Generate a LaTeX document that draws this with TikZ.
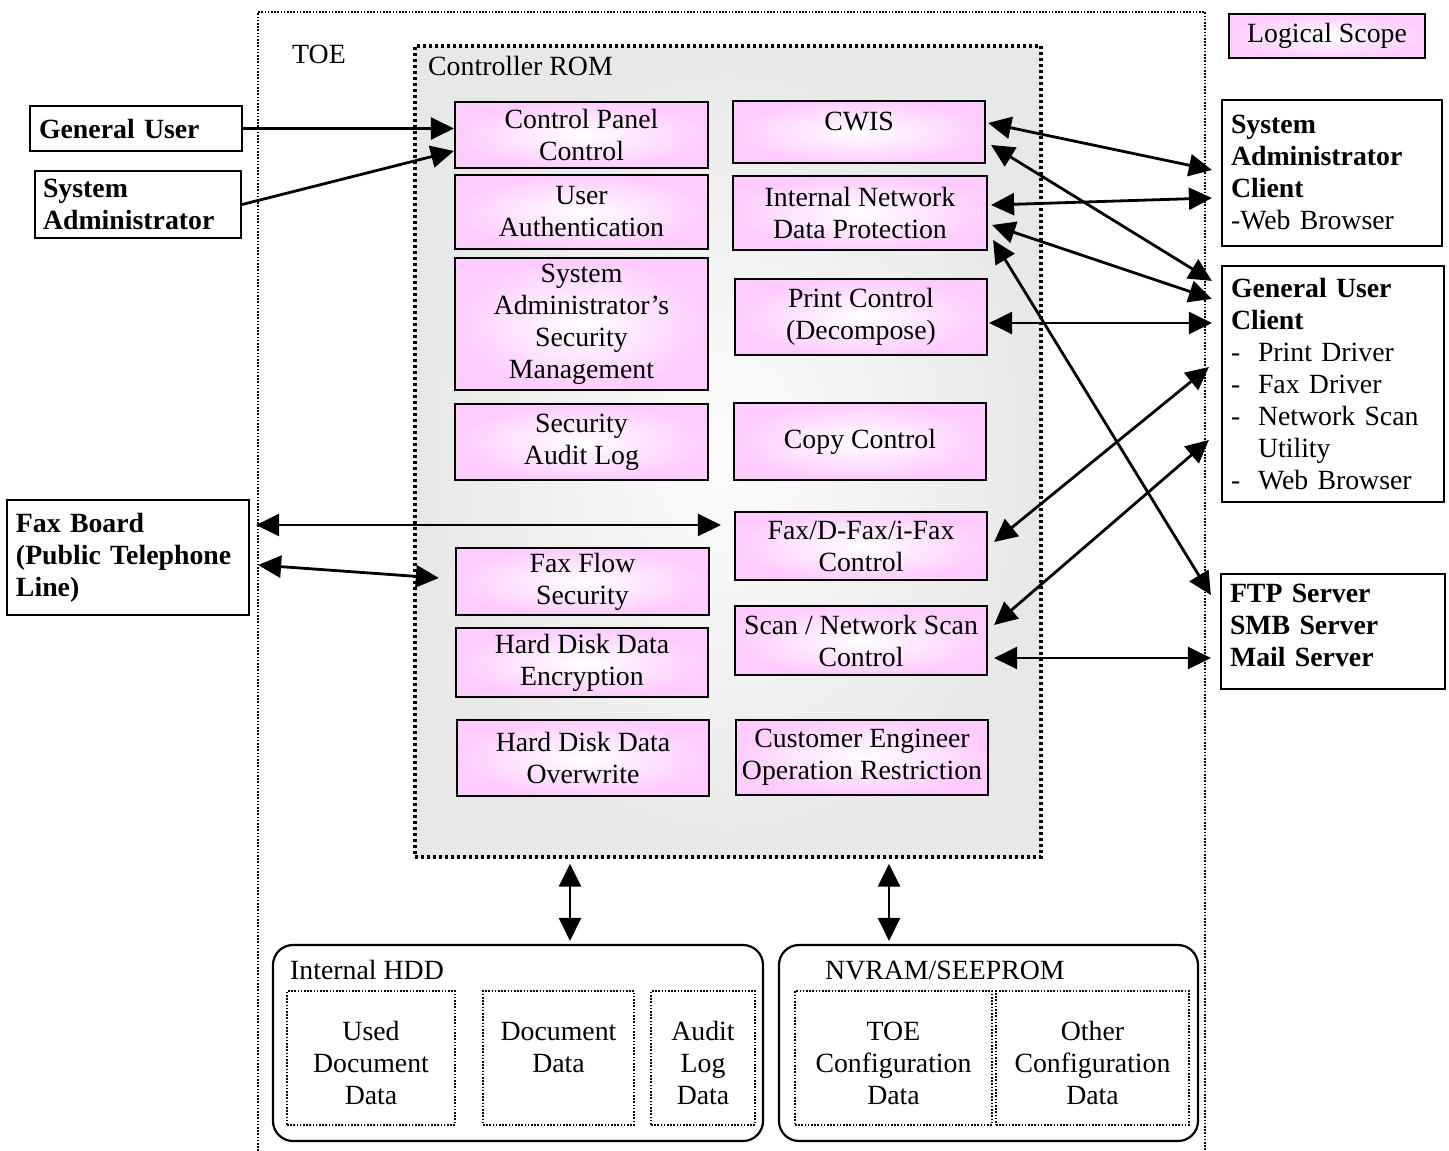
\documentclass[tikz,border=0pt]{standalone}
\usepackage{fontspec}
\setmainfont{Liberation Serif}
\usetikzlibrary{arrows.meta}
\definecolor{scopepink}{RGB}{255,204,255}
\definecolor{romgray}{RGB}{232,232,232}
\newcommand{\diagfont}{\fontsize{27.8pt}{32pt}\selectfont}

\begin{document}
\begin{tikzpicture}[x=1pt,y=-1pt,font=\diagfont,
    >={Triangle[length=23pt,width=22pt]},
    func/.style={draw,line width=2.2pt,inner color=white,outer color=scopepink,
        align=center,inner xsep=2pt,minimum width=252pt},
    ext/.style={draw,line width=2.2pt,fill=white,align=left,inner xsep=9pt},
    store/.style={draw,line width=1.6pt,dash pattern=on 1.6pt off 1.6pt,align=center,
        inner xsep=2pt,text height=46.5pt,text depth=80.6pt},
    mem/.style={draw,line width=2.2pt,rounded corners=20pt,minimum height=196pt},
    plain/.style={inner sep=0pt,anchor=west},
    link/.style={line width=2.8pt}]
    \useasboundingbox (0,0) rectangle (1449,1151);

    % TOE frame, open at the bottom
    \draw[line width=1.6pt,dash pattern=on 1.6pt off 1.6pt] (258,1151) -- (258,12) -- (1205,12) -- (1205,1151);
    \node[plain] (toe) at (292,54) {TOE};

    % controller ROM
    \node[draw,line width=3.4pt,dash pattern=on 3pt off 3pt,inner color=gray!2,outer color=romgray,
        minimum width=626pt,minimum height=811pt] (rom) at (728,451.5) {};
    \node[plain] (romlabel) at (428,66) {Controller ROM};

    \node[func,minimum width=253pt,minimum height=66pt] (cpc) at (581.5,135) {Control Panel\\Control};
    \node[func,minimum width=253pt,minimum height=74pt] (uauth) at (581.5,212) {User\\Authentication};
    \node[func,minimum width=253pt,minimum height=132pt] (sasm) at (581.5,324) {System\\Administrator's\\Security\\Management};
    \node[func,minimum width=253pt,minimum height=76pt] (sal) at (581.5,442) {Security\\Audit Log};
    \node[func,minimum width=253pt,minimum height=67pt] (ffs) at (582.5,581.5) {Fax Flow\\Security};
    \node[func,minimum height=69pt] (hdde) at (582,662.5) {Hard Disk Data\\Encryption};
    \node[func,minimum height=76pt] (hddo) at (583,758) {Hard Disk Data\\Overwrite};

    \node[func,minimum height=62pt,text height=25pt,text depth=28pt] (cwis) at (859,132) {CWIS};
    \node[func,minimum width=254pt,minimum height=74pt] (indp) at (860,213) {Internal Network\\Data Protection};
    \node[func,minimum height=76pt] (pc) at (861,317) {Print Control\\(Decompose)};
    \node[func,minimum height=77pt] (cc) at (860,441.5) {Copy Control};
    \node[func,minimum height=68pt] (fax) at (861,546) {Fax/D-Fax/i-Fax\\Control};
    \node[func,minimum height=69pt] (scan) at (861,640.5) {Scan / Network Scan\\Control};
    \node[func,minimum height=75pt] (ce) at (862,757.5) {Customer Engineer\\Operation Restriction};

    % outside the TOE
    \node[ext,font=\diagfont\bfseries,text width=194pt,minimum height=45pt] (gu) at (136,128.5) {General User};
    \node[ext,font=\diagfont\bfseries,text width=190pt,inner xsep=8pt,minimum height=67pt] (sa) at (138,204.5) {System\\Administrator};
    \node[ext,font=\diagfont\bfseries,text width=224pt,minimum height=115pt] (fb) at (128,557.5) {Fax Board\\(Public Telephone\\Line)};

    \node[func,line width=1.8pt,minimum width=196pt,minimum height=44pt] (scope) at (1327,36) {Logical Scope};
    \node[ext,text width=202pt,minimum height=146pt] (sac) at (1332,173)
        {\textbf{System}\\\textbf{Administrator}\\\textbf{Client}\\-Web Browser};
    \node[ext,text width=204pt,minimum height=236pt] (guc) at (1333,384)
        {\textbf{General User}\\\textbf{Client}\\\makebox[27pt][l]{-}Print Driver\\\makebox[27pt][l]{-}Fax Driver\\
         \makebox[27pt][l]{-}Network Scan\\\hspace*{27pt}Utility\\\makebox[27pt][l]{-}Web Browser};
    \node[ext,font=\diagfont\bfseries,text width=206pt,text height=25pt,text depth=83pt] (srv) at (1333,631.5)
        {FTP Server\\SMB Server\\Mail Server};

    % storage
    \node[mem,minimum width=490pt] (hdd) at (518,1043) {};
    \node[plain] (hddlabel) at (290,970) {Internal HDD};
    \node[store,text width=164pt] (udd) at (371,1058) {Used\\Document\\Data};
    \node[store,text width=147pt] (dd) at (558.5,1058) {Document\\Data};
    \node[store,text width=100pt] (ald) at (703,1058) {Audit\\Log\\Data};
    \node[mem,minimum width=419pt] (nv) at (988.5,1043) {};
    \node[plain] (nvlabel) at (825,970) {NVRAM/SEEPROM};
    \node[store,text width=193pt] (toec) at (893.5,1058) {TOE\\Configuration\\Data};
    \node[store,text width=189pt] (oc) at (1092.5,1058) {Other\\Configuration\\Data};

    % interfaces
    \draw[->,link] (gu.east) -- (cpc.west |- gu.east);
    \draw[->,link] (sa.east) -- ([yshift=-16pt]cpc.west);
    \draw[<->,link] ([shift={(6pt,32.5pt)}]fb.east) -- ([shift={(-13pt,21pt)}]fax.west);
    \draw[<->,link] ([shift={(8pt,-7.5pt)}]fb.east) -- ([shift={(-16pt,3.5pt)}]ffs.west);
    \draw[<->,link] ([shift={(2pt,9pt)}]cwis.east) -- ([shift={(-9pt,3pt)}]sac.west);
    \draw[<->,link] ([shift={(5pt,-13pt)}]cwis.east) -- ([shift={(-9pt,-16pt)}]guc.north west);
    \draw[<->,link] ([shift={(3pt,8pt)}]indp.east) -- ([shift={(-9pt,-25pt)}]sac.west);
    \draw[<->,link] ([shift={(4pt,-12pt)}]indp.east) -- ([shift={(-9pt,-34pt)}]guc.north west);
    \draw[<->,link] ([shift={(5pt,-27pt)}]indp.east) -- ([shift={(-9pt,-22pt)}]srv.north west);
    \draw[<->,link] ([shift={(1pt,-6pt)}]pc.east) -- ([shift={(-9pt,61pt)}]guc.west);
    \draw[<->,link] ([shift={(6pt,4pt)}]fax.east) -- ([shift={(-12pt,17pt)}]guc.west);
    \draw[<->,link] ([shift={(6pt,15.5pt)}]scan.east) -- ([shift={(-12pt,-56pt)}]guc.west);
    \draw[<->,link] ([shift={(6pt,-17.5pt)}]scan.east) -- ([shift={(-9pt,-26.5pt)}]srv.west);
    \draw[<->,link] ([shift={(-158pt,-5pt)}]rom.south) -- ([shift={(52pt,3pt)}]hdd.north);
    \draw[<->,link] ([shift={(161pt,-5pt)}]rom.south) -- ([shift={(-99.5pt,3pt)}]nv.north);
\end{tikzpicture}
\end{document}
